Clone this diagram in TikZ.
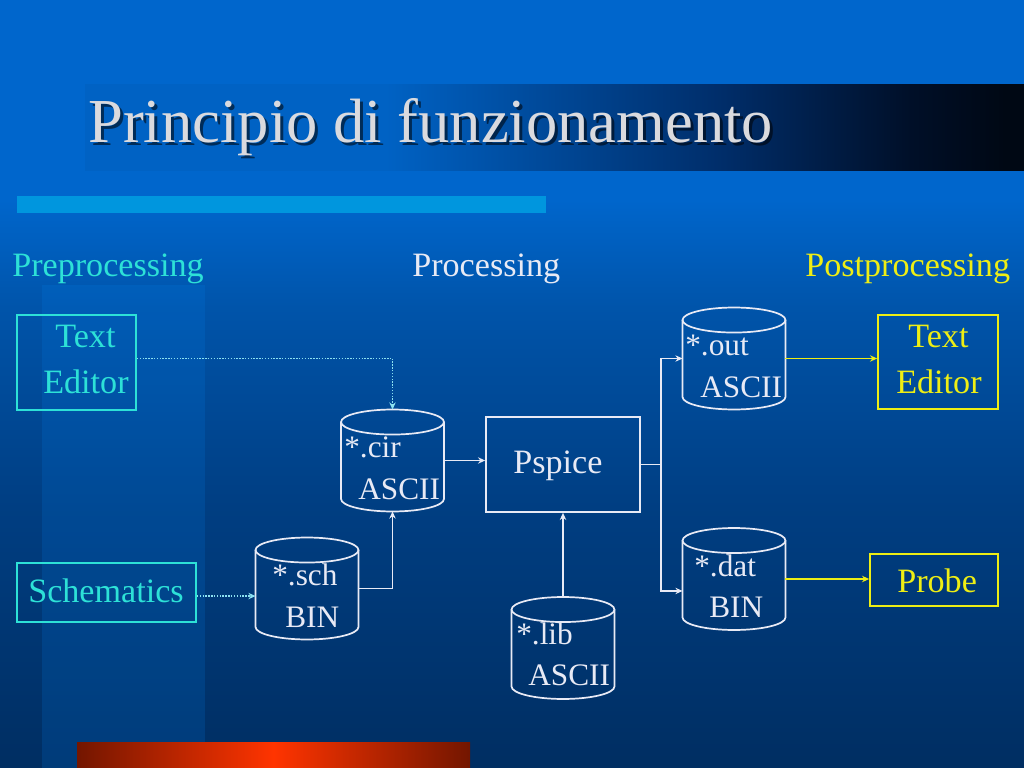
\documentclass[tikz,border=0pt]{standalone}
\usepackage{fontspec}
\setmainfont{Liberation Serif}
\usetikzlibrary{arrows.meta, positioning}

\definecolor{bgtop}{RGB}{0,102,204}
\definecolor{bgmid}{RGB}{0,84,170}
\definecolor{bglow}{RGB}{0,62,130}
\definecolor{bgbot}{RGB}{0,46,98}
\definecolor{bandblue}{RGB}{0,130,240}
\definecolor{tbA}{RGB}{0,98,196}
\definecolor{tbB}{RGB}{0,45,105}
\definecolor{tbC}{RGB}{0,15,40}
\definecolor{tbD}{RGB}{0,8,20}
\definecolor{lightbar}{RGB}{0,150,222}
\definecolor{redbright}{RGB}{255,52,0}
\definecolor{reddark}{RGB}{115,22,0}
\definecolor{titlegray}{RGB}{218,218,222}
\definecolor{precyan}{RGB}{45,225,215}
\definecolor{dotcyan}{RGB}{140,225,240}
\definecolor{postyellow}{RGB}{238,238,20}
\definecolor{linewhite}{RGB}{232,234,245}

\pgfdeclareverticalshading{slidebg}{100bp}{color(0bp)=(bgbot); color(25bp)=(bgbot); color(42bp)=(bglow); color(55bp)=(bgmid); color(62bp)=(bgtop); color(100bp)=(bgtop)}
\pgfdeclarehorizontalshading{titlebar}{100bp}{color(0bp)=(tbA); color(41bp)=(tbA); color(59bp)=(tbB); color(69bp)=(tbC); color(74bp)=(tbD); color(100bp)=(tbD)}

\tikzset{
  txt/.style={anchor=base west, inner sep=0pt, font=\fontsize{24}{28}\selectfont, text=linewhite},
  dbtxt/.style={txt, font=\fontsize{22}{26}\selectfont},
  cbox/.style={draw=precyan, line width=1.2pt, inner sep=0pt},
  ybox/.style={draw=postyellow, line width=1.2pt, inner sep=0pt},
  wbox/.style={draw=linewhite, line width=1.2pt, inner sep=0pt},
  db/.style={minimum width=72.4pt, minimum height=71.7pt, inner sep=0pt, outer sep=0pt},
  wline/.style={draw=linewhite, line width=1.2pt, -{Stealth[length=5pt, width=4.5pt]}},
  cline/.style={draw=dotcyan, line width=1pt, densely dotted, -{Stealth[length=5pt, width=4.5pt]}},
  yline/.style={draw=postyellow, line width=1pt, -{Stealth[length=5pt, width=4.5pt]}}
}

% cylinder outline round a db node
\newcommand{\drawdb}[1]{%
  \draw[linewhite, line width=1.2pt] ([yshift=-8.8pt]#1.north west) -- ([yshift=8.8pt]#1.south west)
    arc[start angle=180, end angle=360, x radius=36.2pt, y radius=8.8pt] -- ([yshift=-8.8pt]#1.north east);
  \draw[linewhite, line width=1.2pt] ([yshift=-8.8pt]#1.north) ellipse [x radius=36.2pt, y radius=8.8pt];}

\begin{document}
\begin{tikzpicture}[x=0.703125pt, y=-0.703125pt]
  \useasboundingbox (0,0) rectangle (1024,768);

  % Background
  \shade[shading=slidebg] (0,0) rectangle (1024,768);
  \fill[bandblue, opacity=0.17] (42,285) rectangle (205,768);
  \shade[shading=titlebar] (85,85) rectangle (1024,171);
  \fill[lightbar] (17,196) rectangle (546,213);
  \shade[left color=reddark, right color=reddark, middle color=redbright] (77,742) rectangle (470,768);

  % Title
  \node[anchor=base west, inner sep=0pt, font=\fontsize{44}{50}\selectfont, text=black, opacity=0.55] (title-sh) at (91,146) {Principio di funzionamento};
  \node[anchor=base west, inner sep=0pt, font=\fontsize{44}{50}\selectfont, text=titlegray] (title) at (88,143) {Principio di funzionamento};

  % Phases
  \node[txt, text=precyan] (pre) at (12,277) {Preprocessing};
  \node[txt] (proc) at (412,277) {Processing};
  \node[txt, text=postyellow] (post) at (805,277) {Postprocessing};

  % Preprocessing
  \node[cbox, minimum width=83.7pt, minimum height=66.8pt] (ted) at (76.5,362.5) {};
  \node[txt, text=precyan] (ted-a) at (55,348) {Text};
  \node[txt, text=precyan] (ted-b) at (43,393) {Editor};
  \node[cbox, minimum width=125.9pt, minimum height=41.5pt] (schem) at (106.5,592.5) {};
  \node[txt, text=precyan] (schem-a) at (28,602) {Schematics};

  % Files in
  \node[db] (cir) at (392.5,460.5) {};
  \node[dbtxt] (cir-a) at (344,457) {*.cir};
  \node[dbtxt] (cir-b) at (358,499) {ASCII};
  \node[db] (sch) at (307,588.5) {};
  \node[dbtxt] (sch-a) at (272,585) {*.sch};
  \node[dbtxt] (sch-b) at (285,627) {BIN};
  \node[db] (lib) at (563,648) {};
  \node[dbtxt] (lib-a) at (516,644) {*.lib};
  \node[dbtxt] (lib-b) at (528,685) {ASCII};

  % Simulator
  \node[wbox, minimum width=108.3pt, minimum height=66.8pt] (psp) at (563,464.5) {};
  \node[txt] (psp-a) at (513,473) {Pspice};

  % Files out
  \node[db] (out) at (734,358.5) {};
  \node[dbtxt] (out-a) at (685,355) {*.out};
  \node[dbtxt] (out-b) at (700,397) {ASCII};
  \node[db] (dat) at (734,579) {};
  \node[dbtxt] (dat-a) at (694,576) {*.dat};
  \node[dbtxt] (dat-b) at (709,617) {BIN};

  \foreach \n in {cir, sch, lib, out, dat} {\drawdb{\n}}

  % Postprocessing
  \node[ybox, minimum width=84.4pt, minimum height=66.1pt] (tedr) at (938,362) {};
  \node[txt, text=postyellow] (tedr-a) at (908,348) {Text};
  \node[txt, text=postyellow] (tedr-b) at (896,393) {Editor};
  \node[ybox, minimum width=90pt, minimum height=36.6pt] (probe) at (934,580) {};
  \node[txt, text=postyellow] (probe-a) at (897,592) {Probe};

  % Connectors
  \draw[cline] ([yshift=3pt]ted.east) -| (cir.north);
  \draw[cline] ([yshift=-2.5pt]schem.east) -- ([yshift=-2.5pt]schem.east -| sch.west);
  \draw[wline] (sch.east) -| (cir.south);
  \draw[wline] (cir.east) -- (cir.east -| psp.west);
  \draw[wline] (lib.north) -- (psp.south);
  \coordinate (fork) at (661,464.5);
  \draw[linewhite, line width=1.2pt] (psp.east) -- (fork);
  \draw[wline] (fork) |- (out.west);
  \draw[wline] (fork) |- ([yshift=-8.4pt]dat.west);
  \draw[yline] (out.east) -- (out.east -| tedr.west);
  \draw[yline] (dat.east) -- (dat.east -| probe.west);
\end{tikzpicture}
\end{document}
